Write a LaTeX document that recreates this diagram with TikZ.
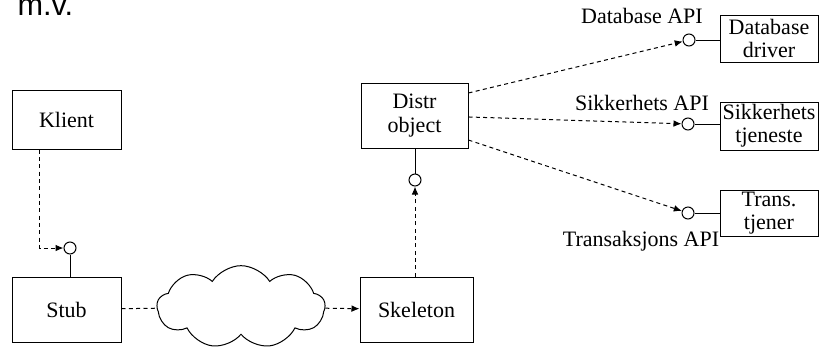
\documentclass[tikz,border=0pt]{standalone}
\usepackage{fontspec}
\setmainfont{Liberation Serif}
\newfontfamily\arialfont{Liberation Sans}
\usepackage{tikz}
\usetikzlibrary{arrows.meta,shapes.symbols}
\tikzset{every picture/.style={line width=0.75pt}}
\tikzset{
	boks/.style={draw, rectangle, inner sep=0pt, align=center, font=\fontsize{16.5}{17.5}\selectfont},
	api/.style={draw, circle, inner sep=0pt, minimum size=9pt},
	stiplet/.style={dash pattern=on 3pt off 2.5pt},
	pil/.style={stiplet, -{Latex[length=6pt,width=5pt]}},
	etikett/.style={anchor=base, inner sep=0pt, font=\fontsize{16.5}{17.5}\selectfont}
}

\begin{document}
\begin{tikzpicture}[x=0.75pt,y=0.75pt,yscale=-1,xscale=1]
	\path[use as bounding box] (0,0) rectangle (823,347);
	
	%Shape: Rectangle [id:klient] 
	\node [boks, minimum width=81.75pt, minimum height=44.25pt] (klient) at (66.5,119.5) {Klient};
	%Shape: Rectangle [id:stub] 
	\node [boks, minimum width=81.75pt, minimum height=48.75pt] (stub) at (66.5,309.5) {Stub};
	%Shape: Rectangle [id:skeleton] 
	\node [boks, minimum width=84.75pt, minimum height=48.75pt] (skeleton) at (416.5,309.5) {Skeleton};
	%Shape: Rectangle [id:distr] 
	\node [boks, minimum width=80.25pt, minimum height=48.75pt] (distr) at (414.5,115.5) {Distr\\object};
	%Shape: Rectangle [id:dbdriver] 
	\node [boks, minimum width=73.5pt, minimum height=35.25pt] (dbdriver) at (769,38.5) {Database\\driver};
	%Shape: Rectangle [id:sikkerhet] 
	\node [boks, minimum width=73.5pt, minimum height=36pt] (sikkerhet) at (769,126) {Sikkerhets\\tjeneste};
	%Shape: Rectangle [id:trans] 
	\node [boks, minimum width=73.5pt, minimum height=34.5pt] (trans) at (769,213) {Trans.\\tjener};
	
	%Shape: Cloud [id:sky] 
	\node [draw, cloud, cloud puffs=9, cloud puff arc=115, aspect=2.2, inner sep=0pt, minimum width=126pt, minimum height=62pt] (sky) at (241,307) {};
	
	%Shape: Circle [id:api] 
	\node [api] (stubapi) at (70,248) {};
	\node [api] (distrapi) at (415,180) {};
	\node [api] (dbapi) at (689,40) {};
	\node [api] (sikkerhetapi) at (688,124) {};
	\node [api] (transapi) at (688,213) {};
	
	%Straight Lines [id:klient-stub] 
	\draw [pil] ([xshift=21pt]klient.south west) |- (stubapi) ;
	\draw (stubapi) -- (stubapi |- stub.north) ;
	%Straight Lines [id:stub-sky-skeleton] 
	\draw [stiplet] (stub) -- (sky) ;
	\draw [pil] (sky) -- (skeleton) ;
	%Straight Lines [id:skeleton-distr] 
	\draw [pil] (skeleton.north -| distrapi) -- (distrapi) ;
	\draw (distrapi) -- (distrapi |- distr.south) ;
	%Straight Lines [id:distr-api] 
	\draw [pil] ([yshift=-16.9pt]distr.east) -- (dbapi) ;
	\draw [pil] ([yshift=1.1pt]distr.east) -- (sikkerhetapi) ;
	\draw [pil] ([yshift=18.4pt]distr.east) -- (transapi) ;
	%Straight Lines [id:api-tjeneste] 
	\draw (dbapi) -- (dbapi -| dbdriver.west) ;
	\draw (sikkerhetapi) -- (sikkerhetapi -| sikkerhet.west) ;
	\draw (transapi) -- (transapi -| trans.west) ;
	
	% Text Node
	\node [etikett] (dbtekst) at (642,23) {Database API};
	% Text Node
	\node [etikett] (sikkerhettekst) at (642,110.5) {Sikkerhets API};
	% Text Node
	\node [etikett] (transtekst) at (641,246) {Transaksjons API};
	% Text Node
	\node [anchor=base west, inner sep=0pt, font=\arialfont\fontsize{23}{27}\selectfont] (mv) at (17,15) {m.v.};
	
\end{tikzpicture}
\end{document}
